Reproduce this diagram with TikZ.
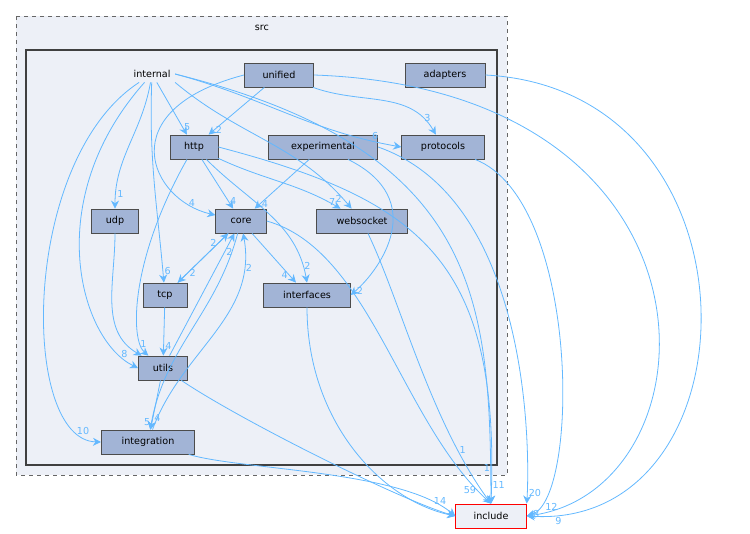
\documentclass[tikz,border=0pt]{standalone}
\usepackage{fontspec}
\setmainfont{DejaVu Sans}
\usetikzlibrary{arrows.meta,positioning}
\definecolor{dirfill}{HTML}{A2B4D6}
\definecolor{clfill}{HTML}{EDF0F7}
\definecolor{edgecol}{HTML}{63B8FF}
\tikzset{
  dir/.style={draw=black!70, fill=dirfill, line width=0.6pt, minimum height=18pt, inner xsep=5pt, font=\fontsize{7.2}{8}\selectfont},
  dep/.style={draw=edgecol, line width=0.6pt, -{Stealth[length=6pt,width=6pt]}},
  num/.style={text=edgecol, font=\fontsize{7.2}{8}\selectfont, inner sep=1pt}
}
\begin{document}
\begin{tikzpicture}[x=0.75pt,y=-0.75pt]
        \useasboundingbox (0,0) rectangle (750,533);
        \draw[black!60, dashed, line width=0.7pt, fill=clfill] (16,16) rectangle (507,475);
        \node[font=\fontsize{7.2}{8}\selectfont] (src) at (262,28) {src};
        \draw[black!75, line width=1.4pt, fill=clfill] (26,50) rectangle (497,465);

        \node[font=\fontsize{7.2}{8}\selectfont] (internal) at (152,74) {internal};
        \node[dir, minimum width=52pt] (unified) at (279,75) {unified};
        \node[dir, minimum width=60pt] (adapters) at (445,75) {adapters};
        \node[dir, minimum width=36pt] (http) at (194,147) {http};
        \node[dir, minimum width=82pt] (experimental) at (323,147) {experimental};
        \node[dir, minimum width=62pt] (protocols) at (443,147) {protocols};
        \node[dir, minimum width=35pt] (udp) at (115,221) {udp};
        \node[dir, minimum width=38pt] (core) at (241,221) {core};
        \node[dir, minimum width=68pt] (websocket) at (362,221) {websocket};
        \node[dir, minimum width=33pt] (tcp) at (165,295) {tcp};
        \node[dir, minimum width=65pt] (interfaces) at (307,295) {interfaces};
        \node[dir, minimum width=37pt] (utils) at (163,368) {utils};
        \node[dir, minimum width=70pt] (integration) at (148,442) {integration};
        \node[draw=red, fill=clfill, line width=0.6pt, minimum height=18pt, minimum width=53pt, font=\fontsize{7.2}{8}\selectfont] (include) at (491,516) {include};

        % edges from internal
        \draw[dep] (internal) to[out=-100,in=90] node[num, pos=0.9, right] {1} (udp);
        \draw[dep] (internal) to[out=-92,in=95] node[num, pos=0.95, right] {6} (tcp);
        \draw[dep] (internal) -- node[num, pos=0.85, right] {5} (http);
        \draw[dep] (internal.south east) to[out=-40,in=130] node[num, pos=0.95, left] {2} (websocket);
        \draw[dep] (internal.east) to[out=-15,in=170] node[num, pos=0.9, above] {6} (protocols.west);
        \draw[dep] (internal.east) .. controls (480,150) and (490,300) .. node[num, pos=0.97, right] {11} (include.north);
        \draw[dep] (internal) .. controls (40,200) and (80,340) .. node[num, pos=0.92, above] {8} (utils.west);
        \draw[dep] (internal) .. controls (20,160) and (20,440) .. node[num, pos=0.92, above] {10} (integration.west);
        % unified
        \draw[dep] (unified.west) .. controls (110,110) and (150,200) .. node[num, pos=0.9, above left] {4} (core);
        \draw[dep] (unified) -- node[num, pos=0.9, right] {2} (http);
        \draw[dep] (unified) to[out=-20,in=120] node[num, pos=0.9, above] {3} (protocols);
        \draw[dep] (unified.east) .. controls (740,90) and (720,490) .. node[num, pos=0.97, above right] {12} (include.east);
        \draw[dep] (adapters.east) .. controls (770,90) and (760,530) .. node[num, pos=0.96, below right] {9} (include.east);
        % http
        \draw[dep] (http) -- node[num, pos=0.85, right] {4} (core);
        \draw[dep] (http) to[out=-25,in=150] node[num, pos=0.9, right] {7} (websocket);
        \draw[dep] (http) to[out=-45,in=100] node[num, pos=0.9, right] {2} (interfaces.north);
        \draw[dep] (http.east) .. controls (420,200) and (500,260) .. node[num, pos=0.95, left] {1} (include.north);
        \draw[dep] (http) .. controls (130,260) and (130,340) .. node[num, pos=0.9, above] {1} (utils);
        % experimental
        \draw[dep] (experimental) -- node[num, pos=0.9, right] {4} (core);
        \draw[dep] (experimental) .. controls (430,200) and (380,270) .. node[num, pos=0.95, right] {2} (interfaces.east);
        \draw[dep] (experimental.east) .. controls (530,200) and (530,450) .. node[num, pos=0.97, above right] {20} (include.north east);
        \draw[dep] (protocols) .. controls (580,200) and (580,500) .. node[num, pos=0.97, right] {8} (include.east);
        % core
        \draw[dep] (core) -- node[num, pos=0.8, right] {2} (tcp);
        \draw[dep] (core) -- node[num, pos=0.85, left] {4} (interfaces);
        \draw[dep] (core.east) .. controls (370,250) and (400,420) .. node[num, pos=0.95, left] {59} (include.north);
        \draw[dep] (tcp) -- node[num, pos=0.8, left] {2} (core);
        \draw[dep] (tcp) -- node[num, pos=0.8, right] {4} (utils);
        \draw[dep] (udp) to[out=-90,in=150] (utils);
        \draw[dep] (utils) -- node[num, pos=0.85, right] {2} (core);
        \draw[dep] (utils) -- node[num, pos=0.85, left] {5} (integration);
        \draw[dep] (utils) .. controls (240,420) and (400,500) .. (include.west);
        \draw[dep] (integration) to[out=70,in=-80] node[num, pos=0.85, right] {2} (core);
        \draw[dep] (core) to[out=-105,in=80] node[num, pos=0.95, right] {4} (integration);
        \draw[dep] (integration) .. controls (240,470) and (400,470) .. node[num, pos=0.92, above] {14} (include.west);
        \draw[dep] (websocket) .. controls (400,300) and (430,420) .. node[num, pos=0.8, right] {1} (include.north);
        \draw[dep] (interfaces) .. controls (307,420) and (380,500) .. (include.west);
\end{tikzpicture}
\end{document}
